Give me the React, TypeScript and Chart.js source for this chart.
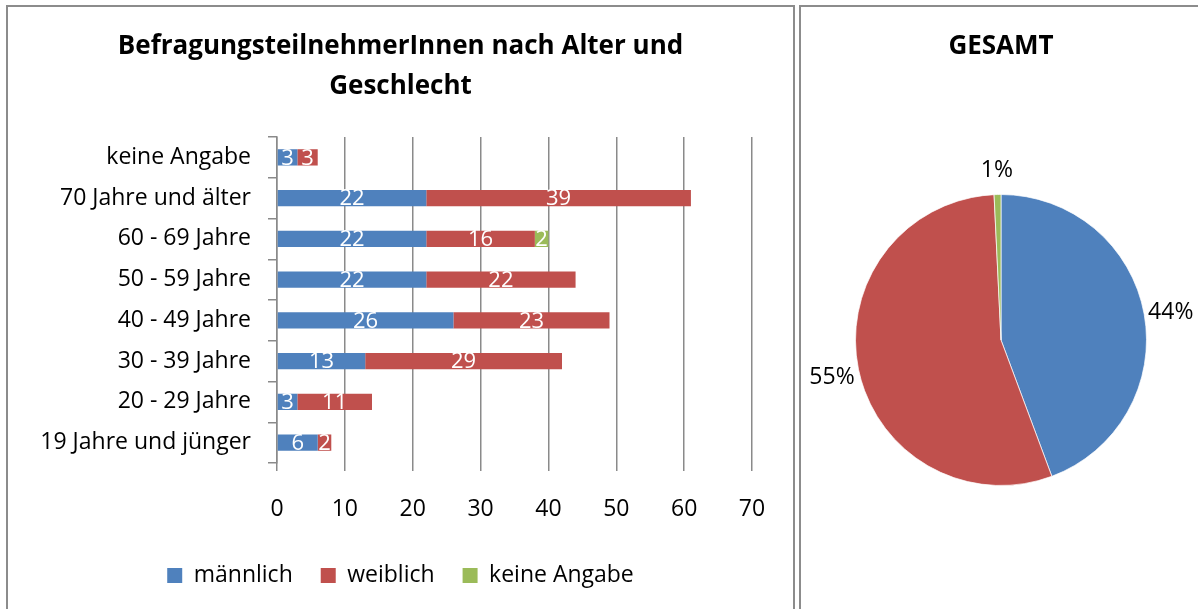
import React, { useEffect, useRef } from 'react';
import { Chart, registerables } from 'chart.js';
Chart.register(...registerables);

const categories = ['keine Angabe', '70 Jahre und älter', '60 - 69 Jahre', '50 - 59 Jahre', '40 - 49 Jahre', '30 - 39 Jahre', '20 - 29 Jahre', '19 Jahre und jünger'];
const maleValues = [3, 22, 22, 22, 26, 13, 3, 6];
const femaleValues = [3, 39, 16, 22, 23, 29, 11, 2];
const noAnswerValues = [0, 0, 2, 0, 0, 0, 0, 0];
const seriesLabels = ['männlich', 'weiblich', 'keine Angabe'];
const barTitle = ['BefragungsteilnehmerInnen nach Alter und', 'Geschlecht'];
const pieTitle = 'GESAMT';
const pieValues = [117, 145, 2];

const FONT = '"Open Sans", sans-serif';
const FS = 23;
const TFS = 26;
const BLUE = '#4F81BD';
const RED = '#C0504D';
const GREEN = '#9BBB59';
const GRID = '#8a8a8a';

const barLabelsPlugin = {
  id: 'barLabels',
  afterDatasetsDraw(chart: any) {
    const ctx = chart.ctx;
    ctx.save();
    ctx.font = `22px ${FONT}`;
    ctx.fillStyle = '#ffffff';
    ctx.textAlign = 'center';
    ctx.textBaseline = 'middle';
    chart.data.datasets.forEach((ds: any, di: number) => {
      const meta = chart.getDatasetMeta(di);
      meta.data.forEach((bar: any, i: number) => {
        const v = ds.data[i];
        if (!v) return;
        const p = bar.getProps(['x', 'y', 'base'], true);
        ctx.fillText(String(v), (p.x + p.base) / 2, p.y + 1);
      });
    });
    ctx.restore();
  },
};

const pieLabelsPlugin = {
  id: 'pieLabels',
  afterDatasetsDraw(chart: any) {
    const ctx = chart.ctx;
    const data = chart.data.datasets[0].data as number[];
    const total = data.reduce((a, b) => a + b, 0);
    const meta = chart.getDatasetMeta(0);
    ctx.save();
    ctx.font = `${FS}px ${FONT}`;
    ctx.fillStyle = '#000000';
    ctx.textAlign = 'center';
    ctx.textBaseline = 'middle';
    meta.data.forEach((arc: any, i: number) => {
      const p = arc.getProps(['x', 'y', 'startAngle', 'endAngle', 'outerRadius'], true);
      const mid = (p.startAngle + p.endAngle) / 2;
      const r = p.outerRadius + 27;
      ctx.fillText(Math.round((data[i] / total) * 100) + '%', p.x + Math.cos(mid) * r, p.y + Math.sin(mid) * r + 3);
    });
    ctx.restore();
  },
};

export default function App() {
  const barRef = useRef<HTMLCanvasElement>(null);
  const pieRef = useRef<HTMLCanvasElement>(null);

  useEffect(() => {
    const font = { family: FONT, size: FS };
    const bar = new Chart(barRef.current!, {
      type: 'bar',
      data: {
        labels: categories,
        datasets: [
          { label: seriesLabels[0], data: maleValues, backgroundColor: BLUE, borderWidth: 0, categoryPercentage: 1, barPercentage: 0.4 },
          { label: seriesLabels[1], data: femaleValues, backgroundColor: RED, borderWidth: 0, categoryPercentage: 1, barPercentage: 0.4 },
          { label: seriesLabels[2], data: noAnswerValues, backgroundColor: GREEN, borderWidth: 0, categoryPercentage: 1, barPercentage: 0.4 },
        ],
      },
      options: {
        indexAxis: 'y',
        animation: false,
        responsive: false,
        maintainAspectRatio: false,
        layout: { padding: { left: 0, right: 0, top: 0, bottom: 12 } },
        plugins: {
          title: {
            display: true,
            text: barTitle,
            color: '#000',
            font: { family: FONT, size: TFS, weight: 'bold', lineHeight: 40 / TFS },
            padding: { top: 20, bottom: 30 },
          },
          legend: {
            position: 'bottom',
            labels: { boxWidth: 15, boxHeight: 15, padding: 28, color: '#000', font },
          },
          tooltip: { enabled: false },
        },
        scales: {
          x: {
            stacked: true,
            min: 0,
            max: 70,
            ticks: { stepSize: 10, color: '#000', font, padding: 25 },
            grid: { color: GRID, lineWidth: 1.5, tickLength: 8 },
            border: { display: false },
            afterFit: (s: any) => { s.height = 73; },
          },
          y: {
            stacked: true,
            ticks: { color: '#000', font, padding: 17 },
            grid: { drawOnChartArea: false, color: GRID, lineWidth: 1.5, tickLength: 9 },
            border: { display: true, color: GRID, width: 1.5 },
            afterFit: (s: any) => { s.width = 269; },
          },
          spacer: {
            type: 'linear',
            position: 'right',
            display: true,
            ticks: { display: false },
            grid: { display: false, drawTicks: false },
            border: { display: false },
            afterFit: (s: any) => { s.width = 41; },
          },
        },
      } as any,
      plugins: [barLabelsPlugin],
    });

    const pie = new Chart(pieRef.current!, {
      type: 'pie',
      data: {
        labels: seriesLabels,
        datasets: [{ data: pieValues, backgroundColor: [BLUE, RED, GREEN], borderColor: 'rgba(255,255,255,0.7)', borderWidth: 1 }],
      },
      options: {
        animation: false,
        responsive: false,
        maintainAspectRatio: false,
        layout: { padding: { left: 54, right: 51, top: 0, bottom: 123 } },
        plugins: {
          title: {
            display: true,
            text: pieTitle,
            color: '#000',
            font: { family: FONT, size: TFS, weight: 'bold', lineHeight: 40 / TFS },
            padding: { top: 20, bottom: 127 },
          },
          legend: { display: false },
          tooltip: { enabled: false },
        },
      } as any,
      plugins: [pieLabelsPlugin],
    });

    return () => { bar.destroy(); pie.destroy(); };
  }, []);

  return (
    <div style={{ position: 'absolute', left: 0, top: 0, width: 1198, height: 609, overflow: 'hidden', background: '#fff' }}>
      <div style={{ position: 'absolute', left: 6, top: 5, width: 785, height: 640, border: '2px solid #8c8c8c' }}>
        <canvas ref={barRef} width={785} height={602} style={{ display: 'block' }} />
      </div>
      <div style={{ position: 'absolute', left: 799, top: 5, width: 420, height: 640, border: '2px solid #8c8c8c' }}>
        <canvas ref={pieRef} width={397} height={602} style={{ display: 'block' }} />
      </div>
    </div>
  );
}
